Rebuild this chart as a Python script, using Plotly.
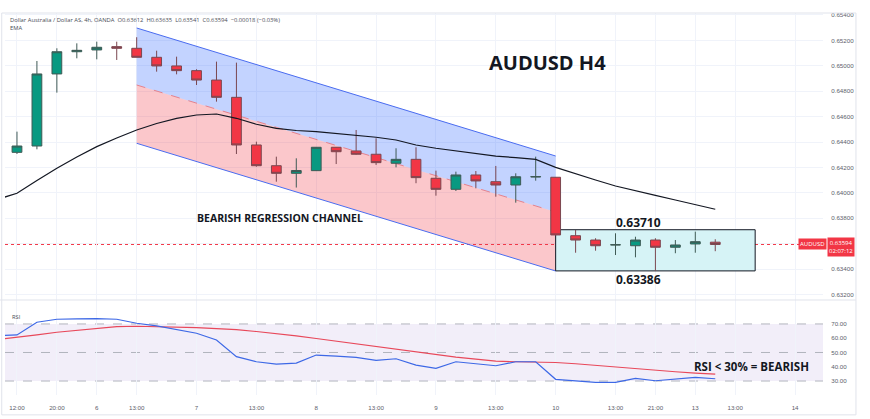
import plotly.graph_objects as go

# ---------------- DATA ----------------
bars = list(range(36))
opens = [0.64319, 0.64369, 0.64936, 0.65111, 0.65125, 0.65151, 0.65138, 0.65067, 0.64999, 0.64962,
         0.64888, 0.64752, 0.64377, 0.64214, 0.64154, 0.64175, 0.64359, 0.64330, 0.64304, 0.64233,
         0.64264, 0.64115, 0.64028, 0.64141, 0.64088, 0.64062, 0.64125, 0.64123, 0.63663, 0.63629,
         0.63590, 0.63584, 0.63629, 0.63572, 0.63598, 0.63612]
highs = [0.64482, 0.65038, 0.65138, 0.65177, 0.65190, 0.65190, 0.65225, 0.65119, 0.65072, 0.64973,
         0.65033, 0.65025, 0.64403, 0.64285, 0.64272, 0.64361, 0.64360, 0.64495, 0.64430, 0.64351,
         0.64359, 0.64175, 0.64167, 0.64172, 0.64212, 0.64154, 0.64285, 0.64125, 0.63708, 0.63643,
         0.63682, 0.63655, 0.63643, 0.63629, 0.63695, 0.63635]
lows = [0.64306, 0.64343, 0.64789, 0.65059, 0.65051, 0.65046, 0.65067, 0.64954, 0.64933, 0.64849,
        0.64718, 0.64306, 0.64206, 0.64088, 0.64042, 0.64172, 0.64227, 0.64300, 0.64220, 0.64201,
        0.64076, 0.63978, 0.64015, 0.64036, 0.63970, 0.63923, 0.64096, 0.63665, 0.63529, 0.63545,
        0.63511, 0.63493, 0.63386, 0.63525, 0.63529, 0.63541]
closes = [0.64369, 0.64936, 0.65111, 0.65122, 0.65146, 0.65138, 0.65067, 0.64999, 0.64962, 0.64888,
          0.64752, 0.64377, 0.64214, 0.64154, 0.64176, 0.64359, 0.64324, 0.64304, 0.64238, 0.64264,
          0.64120, 0.64028, 0.64141, 0.64094, 0.64062, 0.64127, 0.64128, 0.63669, 0.63629, 0.63584,
          0.63592, 0.63629, 0.63572, 0.63590, 0.63616, 0.63594]

ind_bars = list(range(-1, 36))
ema = [0.63948, 0.63997, 0.64098, 0.64194, 0.64283, 0.64364, 0.64432, 0.64495, 0.64546, 0.64587,
       0.64613, 0.64621, 0.64587, 0.64540, 0.64507, 0.64491, 0.64482, 0.64469, 0.64456, 0.64438,
       0.64416, 0.64377, 0.64351, 0.64332, 0.64312, 0.64290, 0.64277, 0.64264, 0.64201, 0.64149,
       0.64101, 0.64054, 0.64015, 0.63980, 0.63944, 0.63905, 0.63871]
rsi = [61.8, 62.3, 71.2, 73.3, 73.5, 73.7, 73.3, 70.5, 68.6, 66.3, 63.5, 58.8, 47.1, 43.5, 41.9, 42.6,
       48.2, 47.5, 46.6, 44.5, 45.6, 41.2, 38.9, 43.5, 41.9, 40.7, 43.5, 43.5, 31.2, 30.2, 29.1, 29.1,
       31.9, 30.2, 31.4, 32.6, 31.6]
rsi_ma = [59.1, 60.5, 62.3, 64.2, 65.6, 67.0, 68.1, 68.4, 68.2, 67.9, 67.4, 66.7, 66.0, 64.7, 63.3,
          61.7, 59.8, 57.9, 56.0, 54.0, 52.1, 50.4, 48.5, 46.8, 45.4, 44.0, 43.5, 43.5, 43.0, 42.1,
          40.9, 39.6, 38.6, 37.5, 36.5, 35.6, 34.9]

chan_bars = [6, 27]
chan_upper = [0.652977, 0.642903]
chan_mid = [0.648491, 0.638496]
chan_lower = [0.643903, 0.633853]

range_bars = [27, 37]
range_high = 0.63710
range_low = 0.63386
last_price = 0.63594

tick_bars = [0, 2, 4, 6, 9, 12, 15, 18, 21, 24, 27, 30, 32, 34, 36, 39]
tick_labels = ["12:00", "20:00", "6", "13:00", "7", "13:00", "8", "13:00", "9", "13:00",
               "10", "13:00", "21:00", "13", "13:00", "14"]
price_ticks = [0.632, 0.634, 0.636, 0.638, 0.640, 0.642, 0.644, 0.646, 0.648, 0.650, 0.652, 0.654]
rsi_ticks = [30, 40, 50, 60, 70]
rsi_levels = [30, 50, 70]

# ---------------- STYLE ----------------
GREEN = "#089981"
RED = "#f23645"
GRID = "#f0f3fa"
TXT = "#131722"
AX = "#5d606b"

fig = go.Figure()

# candles
fig.add_trace(go.Candlestick(
    x=bars, open=opens, high=highs, low=lows, close=closes,
    increasing=dict(fillcolor=GREEN, line=dict(color="#3f5a55", width=1)),
    decreasing=dict(fillcolor=RED, line=dict(color="#7a4750", width=1)),
    showlegend=False, hoverinfo="skip"))

# EMA
fig.add_trace(go.Scatter(x=ind_bars, y=ema, mode="lines", line=dict(color="#131722", width=1.2),
                         hoverinfo="skip", showlegend=False))

# RSI
fig.add_trace(go.Scatter(x=ind_bars, y=rsi_ma, mode="lines", xaxis="x2", yaxis="y2",
                         line=dict(color="#e8485a", width=1.2), hoverinfo="skip", showlegend=False))
fig.add_trace(go.Scatter(x=ind_bars, y=rsi, mode="lines", xaxis="x2", yaxis="y2",
                         line=dict(color="#3d68e6", width=1.2), hoverinfo="skip", showlegend=False))

xrange = [-0.6, 40.4]
dom_split = 0.2487

def band_path(xs, ya, yb):
    pts = [(xs[0], ya[0]), (xs[1], ya[1]), (xs[1], yb[1]), (xs[0], yb[0])]
    return "M " + " L ".join(f"{x},{y}" for x, y in pts) + " Z"

shapes = []
# regression channel fills (below candles)
shapes.append(dict(type="path", xref="x", yref="y", path=band_path(chan_bars, chan_upper, chan_mid),
                   fillcolor="rgba(41,98,255,0.28)", line=dict(width=0), layer="between"))
shapes.append(dict(type="path", xref="x", yref="y", path=band_path(chan_bars, chan_mid, chan_lower),
                   fillcolor="rgba(242,54,69,0.28)", line=dict(width=0), layer="between"))
for ys, col, dash in [(chan_upper, "#4a6cf0", "solid"), (chan_lower, "#4a6cf0", "solid"),
                      (chan_mid, "#e5828d", "dash")]:
    shapes.append(dict(type="line", xref="x", yref="y", x0=chan_bars[0], x1=chan_bars[1],
                       y0=ys[0], y1=ys[1], line=dict(color=col, width=1, dash=dash), layer="between"))
# range box
shapes.append(dict(type="rect", xref="x", yref="y", x0=range_bars[0], x1=range_bars[1],
                   y0=range_low, y1=range_high, fillcolor="#d6f3f6",
                   line=dict(color="#131722", width=1), layer="between"))
# last price line
shapes.append(dict(type="line", xref="paper", yref="y", x0=0, x1=1, y0=last_price, y1=last_price,
                   line=dict(color=RED, width=1, dash="dot"), layer="between"))
# RSI band
shapes.append(dict(type="rect", xref="paper", yref="y2", x0=0, x1=1, y0=rsi_levels[0], y1=rsi_levels[-1],
                   fillcolor="rgba(126,87,194,0.10)", line=dict(width=0), layer="between"))
for lv in rsi_levels:
    shapes.append(dict(type="line", xref="paper", yref="y2", x0=0, x1=1, y0=lv, y1=lv,
                       line=dict(color="#b2b5be", width=1, dash="dash"), layer="between"))
# panel separator and frame
shapes.append(dict(type="line", xref="paper", yref="paper", x0=-0.006, x1=1.04, y0=dom_split, y1=dom_split,
                   line=dict(color="#e0e3eb", width=1)))
shapes.append(dict(type="rect", xref="paper", yref="paper", x0=-0.004, x1=1.0403, y0=-0.052, y1=1.0,
                   line=dict(color="#e0e3eb", width=1), fillcolor="rgba(0,0,0,0)"))

ann = []
def A(text, x, y, size, bold=False, color=TXT, xanchor="center", yanchor="middle", **kw):
    t = f"<b>{text}</b>" if bold else text
    d = dict(text=t, x=x, y=y, xref="paper", yref="paper", showarrow=False,
             font=dict(family="Open Sans, Arial, sans-serif", size=size, color=color),
             xanchor=xanchor, yanchor=yanchor)
    d.update(kw)
    ann.append(d)

A("Dollar Australia / Dollar AS, 4h, OANDA  O0.63612  H0.63635  L0.63541  C0.63594  \u22120.00018 (\u22120.03%)",
  0.0037, 0.9817, 5.8, color="#4a4d57", xanchor="left")
A("EMA", 0.0037, 0.9607, 5.8, color="#4a4d57", xanchor="left")
A("RSI", 0.0061, 0.2042, 5.8, color="#4a4d57", xanchor="left")
A("AUDUSD H4", 0.6638, 0.8717, 20, bold=True)
A("BEARISH REGRESSION CHANNEL", 0.3362, 0.4634, 10.5, bold=True)
A("RSI &lt; 30% = BEARISH", 0.912, 0.0759, 11.5, bold=True)
A(f"{range_high:.5f}", 0.775, 0.4511, 12, bold=True)
A(f"{range_low:.5f}", 0.775, 0.3029, 12, bold=True)
A(f"{last_price:.5f}<br>02:07:12", 1.0214, 0.3874, 6, color="white", bgcolor=RED, borderpad=1)
A("AUDUSD", 0.9872, 0.3953, 6, color="white", bgcolor=RED, borderpad=1)

fig.update_layout(
    width=870, height=419,
    margin=dict(l=5, r=47, t=13, b=24),
    paper_bgcolor="white", plot_bgcolor="white",
    showlegend=False,
    hovermode=False,
    xaxis=dict(domain=[0, 1], anchor="y", range=xrange, tickvals=tick_bars, ticktext=tick_labels,
               showticklabels=False, showgrid=True, gridcolor=GRID, gridwidth=1, zeroline=False,
               rangeslider=dict(visible=False), fixedrange=True),
    yaxis=dict(domain=[dom_split, 1], anchor="x", side="right", range=[0.63157, 0.654157],
               tickvals=price_ticks, tickformat=".5f", showgrid=True, gridcolor=GRID, zeroline=False,
               ticks="outside", ticklen=6, tickcolor="rgba(0,0,0,0)",
               tickfont=dict(family="Arial, sans-serif", size=6.2, color=AX)),
    xaxis2=dict(domain=[0, 1], anchor="y2", range=xrange, tickvals=tick_bars, ticktext=tick_labels,
                showgrid=True, gridcolor=GRID, zeroline=False, ticks="outside", ticklen=7,
                tickcolor="rgba(0,0,0,0)", tickfont=dict(family="Arial, sans-serif", size=6.2, color=AX)),
    yaxis2=dict(domain=[0, dom_split], anchor="x2", side="right", range=[20.2, 86.8],
                tickvals=rsi_ticks, tickformat=".2f", showgrid=False, zeroline=False,
                ticks="outside", ticklen=6, tickcolor="rgba(0,0,0,0)",
                tickfont=dict(family="Arial, sans-serif", size=6.2, color=AX)),
    shapes=shapes,
    annotations=ann,
)

fig.write_html("out.html")
